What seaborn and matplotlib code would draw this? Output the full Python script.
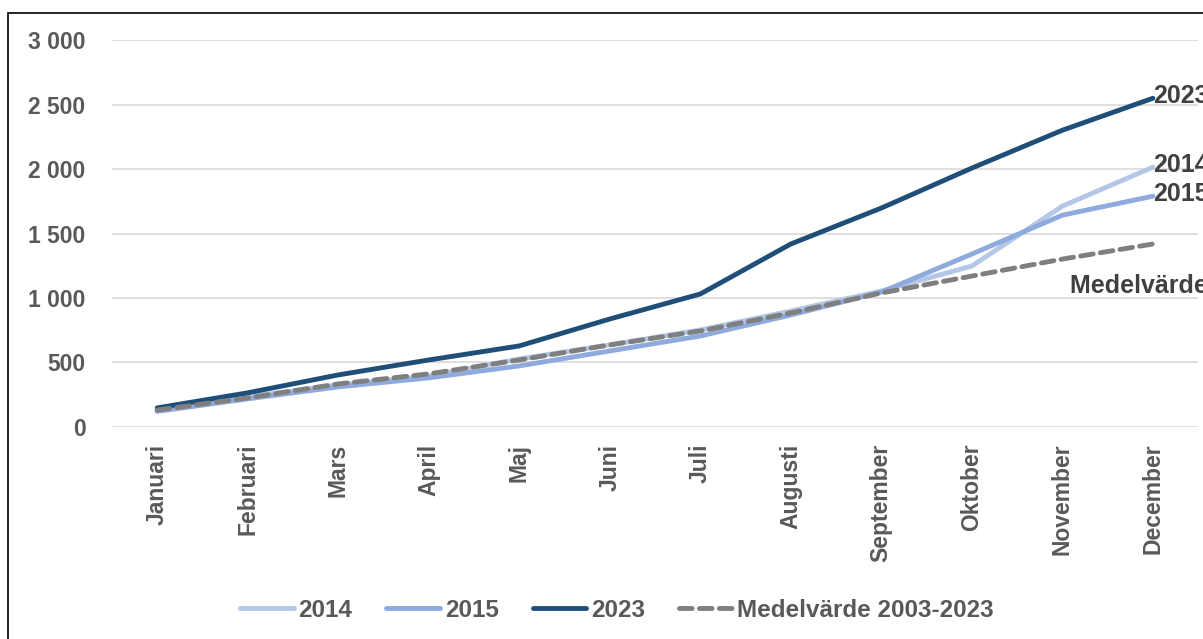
import matplotlib
matplotlib.use("Agg")
import matplotlib.pyplot as plt
import seaborn as sns
import pandas as pd
from matplotlib.patches import Rectangle
from matplotlib.ticker import FuncFormatter

# Data
months = ["Januari", "Februari", "Mars", "April", "Maj", "Juni", "Juli",
          "Augusti", "September", "Oktober", "November", "December"]
y2014 = [130, 233, 326, 395, 527, 636, 752, 899, 1054, 1248, 1713, 2015]
y2015 = [120, 217, 310, 380, 473, 589, 705, 868, 1046, 1341, 1643, 1790]
y2023 = [147, 264, 403, 519, 628, 837, 1031, 1419, 1698, 2008, 2302, 2550]
medel = [130, 225, 333, 411, 519, 636, 744, 884, 1039, 1170, 1302, 1419]

series_names = ["2014", "2015", "2023", "Medelvärde 2003-2023"]
colors = ["#B4C7E7", "#8FAADC", "#1F4E79", "#7F7F7F"]

sns.set_theme(style="white")
plt.rcParams['font.family'] = ['Liberation Sans', 'DejaVu Sans']
plt.rcParams['font.weight'] = 'bold'

df = pd.DataFrame({"month": months, "2014": y2014, "2015": y2015,
                   "2023": y2023, "Medelvärde 2003-2023": medel})
df["x"] = range(len(months))

fig = plt.figure(figsize=(12.03, 6.39), dpi=100)
ax = fig.add_axes([0.093, 0.332, 0.903, 0.605])

for name, col in zip(series_names, colors):
    dashed = name.startswith("Medel")
    sns.lineplot(data=df, x="x", y=name, ax=ax, color=col, linewidth=3.5,
                 label=name, solid_capstyle="round",
                 linestyle=(0, (2.6, 1.5)) if dashed else "-",
                 dash_capstyle="round")

ax.set_xlim(-0.5, 11.5)
ax.set_ylim(0, 3000)
ax.set_yticks(range(0, 3001, 500))
ax.yaxis.set_major_formatter(FuncFormatter(lambda v, p: f"{int(v):,}".replace(",", " ")))
ax.set_xticks(df["x"])
ax.set_xticklabels(months, rotation=90, fontsize=16.5, fontweight="bold", color="#595959")
ax.tick_params(axis="y", labelsize=16.5, labelcolor="#595959", length=0, pad=19)
ax.tick_params(axis="x", length=0, pad=12)
for lbl in ax.get_yticklabels():
    lbl.set_fontweight("bold")
ax.grid(axis="y", color="#D9D9D9", linewidth=1.2)
ax.set_xlabel("")
ax.set_ylabel("")
sns.despine(ax=ax, left=True, bottom=True, top=True, right=True)

# End labels (partly cut off at the right edge, as in the original)
lab_kw = dict(fontsize=18, fontweight="bold", color="#404040", va="center", ha="left", clip_on=False)
ax.text(11, y2023[-1] + 15, "2023", **lab_kw)
ax.text(11, y2014[-1] + 15, "2014", **lab_kw)
ax.text(11, y2015[-1] + 15, "2015", **lab_kw)
ax.text(10.08, 1090, "Medelvärde 2003-2023", **lab_kw)

leg = ax.legend(loc="center", bbox_to_anchor=(0.465, -0.475), ncol=4, frameon=False,
                fontsize=17.5, handlelength=2.2, columnspacing=1.4, handletextpad=0.2)
for t in leg.get_texts():
    t.set_color("#595959")
    t.set_fontweight("bold")

# chart frame
fig.patches.append(Rectangle((8 / 1203, -0.1), 1.2, 1 - 13 / 639 + 0.1, transform=fig.transFigure,
                             fill=False, edgecolor="#000000", linewidth=1.2))

fig.savefig("out.png", dpi=100)
